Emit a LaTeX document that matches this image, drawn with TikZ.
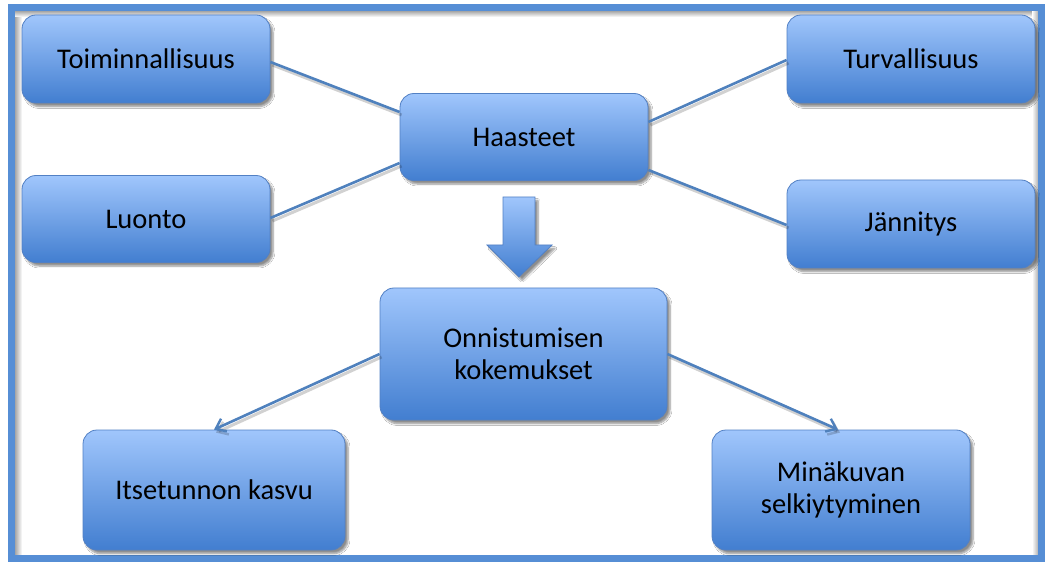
\documentclass[tikz,border=0pt]{standalone}
\usepackage{fontspec}
\setmainfont{Carlito}
\usetikzlibrary{shadows.blur,arrows.meta}

\definecolor{boxtop}{RGB}{160,198,252}
\definecolor{boxbot}{RGB}{66,126,208}
\definecolor{boxedge}{RGB}{82,128,196}
\definecolor{linkblue}{RGB}{79,129,189}
\definecolor{frameblue}{RGB}{86,142,213}

\tikzset{
  card/.style={rectangle, rounded corners=14pt, draw=boxedge, line width=0.8pt,
    top color=boxtop, bottom color=boxbot, text=black, align=center,
    inner sep=0pt, font=\fontsize{28.5}{32}\selectfont,
    blur shadow={shadow xshift=3pt, shadow yshift=-3.5pt, shadow blur steps=6, shadow opacity=45}},
  link/.style={draw=linkblue, line width=2.6pt,
    preaction={draw=black, draw opacity=0.18, line width=3pt,
      transform canvas={shift={(2pt,-3pt)}}}},
  tipped/.style={link, -{Straight Barb[length=9pt,width=14pt,line width=2.4pt]}}
}

\begin{document}
\begin{tikzpicture}[x=1pt,y=-1pt]
\useasboundingbox (0,0) rectangle (1045,564);
\fill[white] (0,0) rectangle (1045,564);

% outer frame with soft inner shading
\shade[left color=black!35, right color=white] (15,11) rectangle (22,555);
\shade[top color=black!35, bottom color=white] (15,11) rectangle (1038,17);
\shade[left color=white, right color=black!30] (1032,11) rectangle (1038,555);
\draw[frameblue, line width=7pt] (11.5,7.5) rectangle (1041.5,558.5);

% boxes
\node[card, minimum width=248pt, minimum height=88pt] (toim) at (146,59) {Toiminnallisuus};
\node[card, minimum width=248pt, minimum height=88pt] (turv) at (911,59) {Turvallisuus};
\node[card, minimum width=248pt, minimum height=87pt] (haas) at (524,137) {Haasteet};
\node[card, minimum width=248pt, minimum height=87pt] (luon) at (146,219) {Luonto};
\node[card, minimum width=248pt, minimum height=88pt] (jann) at (911,224) {Jännitys};
\node[card, minimum width=287pt, minimum height=132pt] (onni) at (523.5,354) {Onnistumisen\\kokemukset};
\node[card, minimum width=262pt, minimum height=120pt] (itse) at (214,490) {Itsetunnon kasvu};
\node[card, minimum width=258pt, minimum height=120pt] (mina) at (841,490) {Minäkuvan\\selkiytyminen};

% spokes around Haasteet
\begin{scope}[on background layer/.try]
\draw[link] ([yshift=-3pt]toim.east) -- ([yshift=25pt]haas.west);
\draw[link] ([yshift=1pt]luon.east) -- ([yshift=-26pt]haas.west);
\draw[link] ([yshift=-1pt]turv.west) -- ([yshift=15pt]haas.east);
\draw[link] ([yshift=-1pt]jann.west) -- ([yshift=-33pt]haas.east);
\end{scope}

% block arrow between the two levels
\path[draw=boxedge, line width=0.8pt, top color=boxtop, bottom color=boxbot,
  blur shadow={shadow xshift=3pt, shadow yshift=-3.5pt, shadow blur steps=6, shadow opacity=45}]
  (503,197) -- (535,197) -- (535,245) -- (552,245) -- (519,277) -- (487,245) -- (503,245) -- cycle;

% outcome arrows
\draw[tipped] (onni.west) -- (itse.north);
\draw[tipped] (onni.east) -- ([xshift=-3pt]mina.north);
\end{tikzpicture}
\end{document}
